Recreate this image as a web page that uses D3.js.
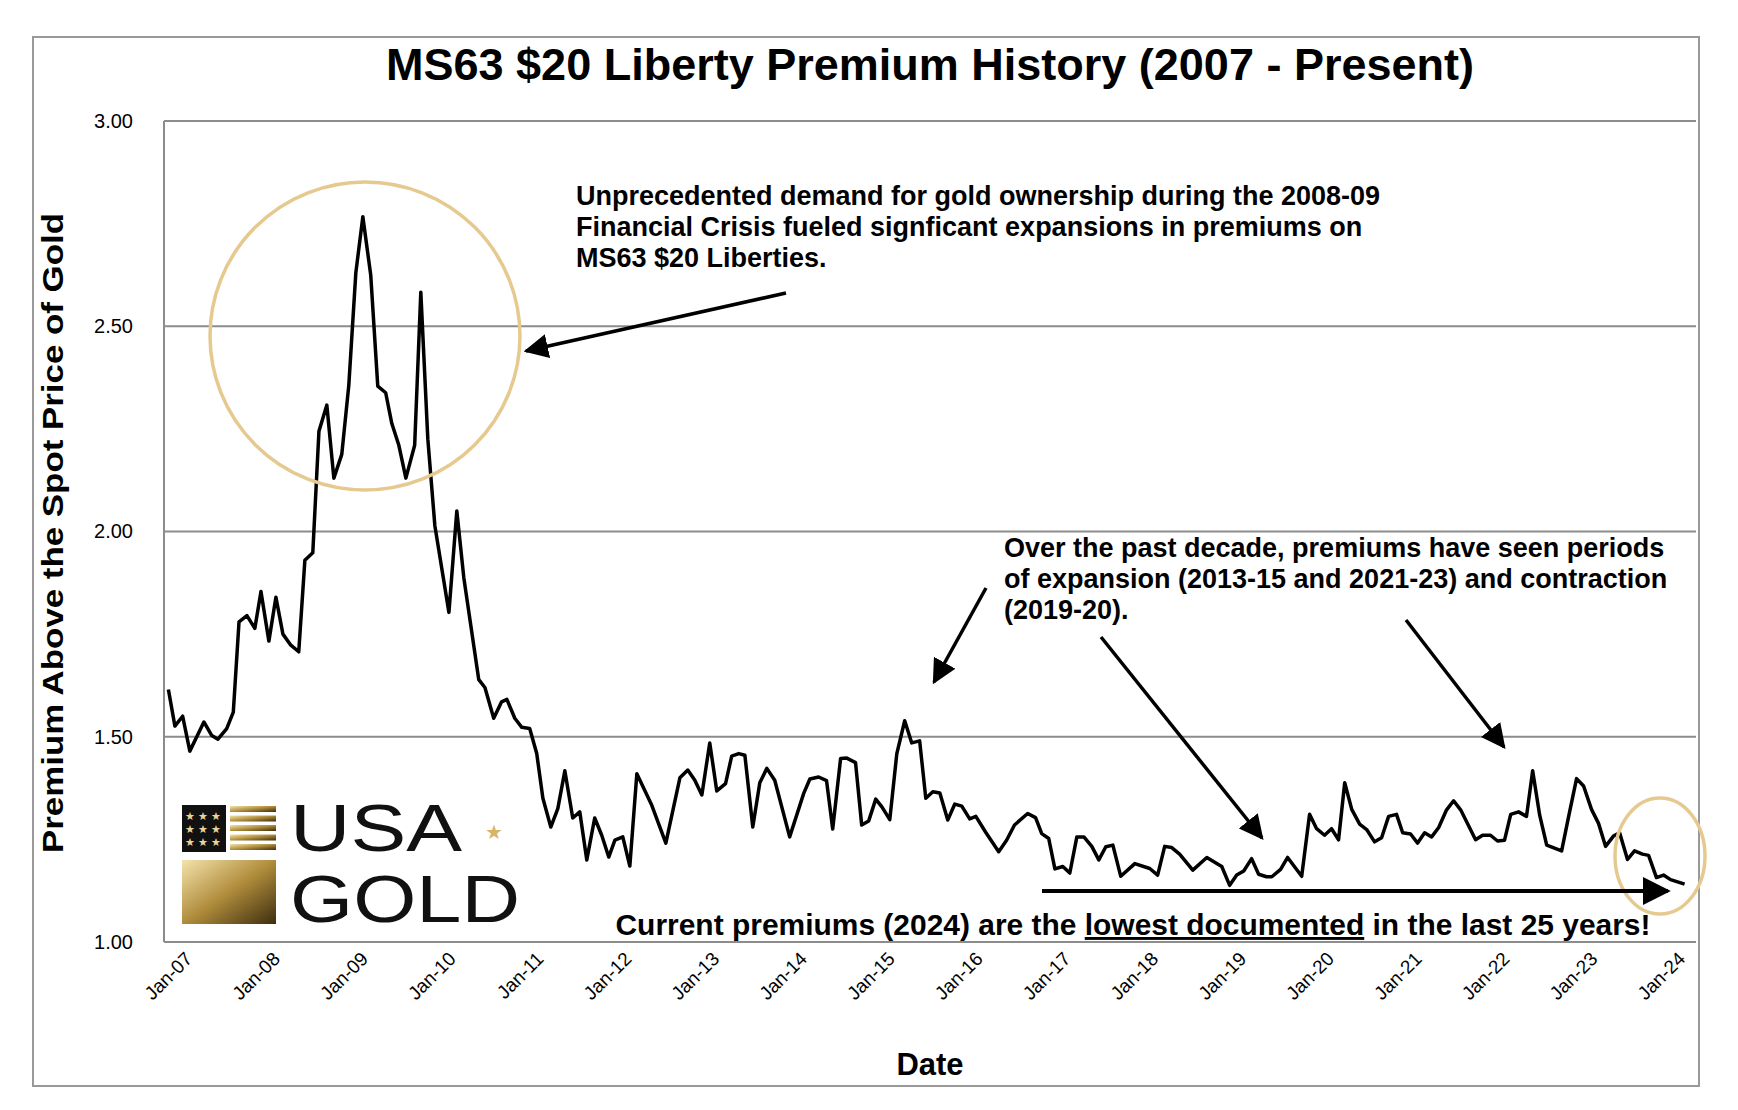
<!DOCTYPE html>
<html>
<head>
<meta charset="utf-8">
<script src="https://cdn.jsdelivr.net/npm/d3@7"></script>
<style>
  body { margin: 0; background: #fff; }
  text { font-family: "Liberation Sans", Arial, sans-serif; }
</style>
</head>
<body>
<div id="chart"></div>
<script>
// years elapsed since Jan-07
var yearsSince2007 = [0.016,0.09,0.178,0.26,0.42,0.51,0.58,0.68,0.755,0.82,0.91,1.0,1.07,1.16,1.24,1.32,1.41,1.5,1.57,1.66,1.73,1.82,1.9,1.99,2.07,2.15,2.23,2.32,2.4,2.49,2.56,2.64,2.72,2.82,2.89,2.97,3.05,3.21,3.3,3.38,3.55,3.62,3.72,3.81,3.87,3.96,4.04,4.13,4.21,4.28,4.37,4.45,4.53,4.62,4.7,4.78,4.87,4.95,5.03,5.1,5.19,5.27,5.35,5.52,5.68,5.84,5.93,6.01,6.09,6.18,6.26,6.36,6.43,6.51,6.58,6.67,6.75,6.83,6.92,7.09,7.25,7.32,7.42,7.51,7.58,7.67,7.74,7.84,7.91,7.99,8.07,8.14,8.23,8.31,8.4,8.48,8.57,8.64,8.72,8.8,8.89,8.97,9.05,9.14,9.21,9.32,9.47,9.56,9.65,9.8,9.89,9.96,10.04,10.11,10.2,10.28,10.36,10.44,10.53,10.61,10.69,10.77,10.86,11.02,11.19,11.28,11.36,11.44,11.53,11.68,11.84,12.01,12.1,12.18,12.26,12.35,12.43,12.52,12.58,12.68,12.76,12.92,13.01,13.09,13.18,13.26,13.34,13.41,13.49,13.58,13.66,13.75,13.83,13.91,14.0,14.07,14.16,14.24,14.32,14.4,14.48,14.57,14.65,14.73,14.9,14.98,15.07,15.15,15.23,15.3,15.39,15.48,15.55,15.63,15.71,15.88,15.96,16.05,16.13,16.22,16.3,16.38,16.47,16.54,16.63,16.71,16.8,16.87,16.96,17.04,17.12,17.28];
var premium = [1.615,1.526,1.55,1.465,1.536,1.503,1.494,1.52,1.56,1.78,1.795,1.764,1.854,1.733,1.84,1.75,1.723,1.707,1.93,1.948,2.244,2.308,2.13,2.188,2.356,2.63,2.767,2.624,2.354,2.338,2.263,2.21,2.13,2.21,2.583,2.225,2.014,1.803,2.05,1.887,1.639,1.62,1.545,1.585,1.591,1.545,1.523,1.52,1.459,1.35,1.28,1.325,1.417,1.302,1.317,1.2,1.302,1.26,1.207,1.248,1.256,1.185,1.41,1.333,1.241,1.4,1.419,1.394,1.358,1.485,1.368,1.386,1.453,1.459,1.455,1.28,1.388,1.423,1.394,1.256,1.362,1.397,1.402,1.393,1.275,1.447,1.448,1.437,1.285,1.295,1.348,1.329,1.298,1.459,1.539,1.485,1.49,1.35,1.366,1.363,1.297,1.336,1.331,1.3,1.306,1.268,1.22,1.248,1.285,1.313,1.303,1.264,1.252,1.178,1.184,1.168,1.256,1.256,1.233,1.2,1.232,1.236,1.16,1.191,1.179,1.163,1.233,1.23,1.214,1.175,1.206,1.184,1.138,1.163,1.173,1.203,1.165,1.159,1.159,1.177,1.206,1.16,1.311,1.276,1.26,1.276,1.249,1.388,1.323,1.287,1.274,1.244,1.254,1.306,1.311,1.266,1.263,1.241,1.266,1.256,1.279,1.322,1.344,1.322,1.249,1.26,1.26,1.246,1.248,1.311,1.317,1.306,1.417,1.309,1.236,1.222,1.306,1.398,1.38,1.323,1.289,1.233,1.258,1.266,1.201,1.222,1.214,1.211,1.157,1.163,1.152,1.141];
var tickYears = d3.range(2007, 2025);
var yTicks = [1.0, 1.5, 2.0, 2.5, 3.0];

var svgWidth = 1738, svgHeight = 1110;
var plot = { left: 164, top: 121, right: 1696, bottom: 942 };

var svg = d3.select("#chart").append("svg")
  .attr("width", svgWidth).attr("height", svgHeight);
var defs = svg.append("defs");

svg.append("rect")
  .attr("x", 33).attr("y", 37).attr("width", 1666).attr("height", 1049)
  .attr("fill", "none").attr("stroke", "#999").attr("stroke-width", 2);

var x = d3.scaleLinear().domain([2007, 2024]).range([167, 1660]);
var y = d3.scaleLinear().domain([1, 3]).range([plot.bottom, plot.top]);

// gridlines
svg.append("g").selectAll("line").data(yTicks).enter().append("line")
  .attr("x1", plot.left).attr("x2", plot.right)
  .attr("y1", d => y(d)).attr("y2", d => y(d))
  .attr("stroke", "#8c8c8c").attr("stroke-width", 2);

svg.append("line")
  .attr("x1", plot.left).attr("x2", plot.left)
  .attr("y1", plot.top).attr("y2", plot.bottom)
  .attr("stroke", "#8c8c8c").attr("stroke-width", 2);

var leftAxis = d3.axisLeft(y).tickValues(yTicks).tickFormat(d3.format(".2f")).tickSize(0).tickPadding(0);
var gy = svg.append("g").attr("transform", "translate(133,0)").call(leftAxis);
gy.select(".domain").remove();
gy.selectAll("text").attr("font-size", 20).attr("font-family", "Liberation Sans").attr("fill", "#000");

var bottomAxis = d3.axisBottom(x).tickValues(tickYears)
  .tickFormat(d => "Jan-" + String(d).slice(2)).tickSize(0);
var gx = svg.append("g").attr("transform", "translate(0," + plot.bottom + ")").call(bottomAxis);
gx.select(".domain").remove();
gx.selectAll("text")
  .attr("font-size", 19).attr("fill", "#000")
  .attr("text-anchor", "end")
  .attr("dy", 0).attr("y", 0)
  .attr("transform", "translate(26,18) rotate(-45)");

// logo
var logo = svg.append("g");
var gold = defs.append("linearGradient").attr("id", "gold")
  .attr("x1", 0).attr("y1", 0).attr("x2", 1).attr("y2", 1);
gold.append("stop").attr("offset", 0).attr("stop-color", "#f4e3ac");
gold.append("stop").attr("offset", 0.5).attr("stop-color", "#b08d3c");
gold.append("stop").attr("offset", 1).attr("stop-color", "#3d2d10");
logo.append("rect").attr("x", 182).attr("y", 805).attr("width", 44).attr("height", 47).attr("fill", "#111");
for (var i = 0; i < 5; i++) {
  logo.append("rect").attr("x", 230).attr("y", 806 + i * 9.5).attr("width", 46).attr("height", 6).attr("fill", "url(#gold)");
}
for (var r = 0; r < 3; r++) for (var c = 0; c < 3; c++) {
  logo.append("text").attr("x", 190 + c * 13).attr("y", 820 + r * 13).attr("font-size", 11)
    .attr("fill", "#e8d49a").attr("text-anchor", "middle").text("★");
}
logo.append("rect").attr("x", 182).attr("y", 860).attr("width", 94).attr("height", 64)
  .attr("fill", "url(#gold)");
logo.append("text").attr("x", 290).attr("y", 851).attr("font-size", 66).attr("fill", "#111")
  .attr("textLength", 172).attr("lengthAdjust", "spacingAndGlyphs").text("USA");
logo.append("text").attr("x", 290).attr("y", 922).attr("font-size", 66).attr("fill", "#111")
  .attr("textLength", 230).attr("lengthAdjust", "spacingAndGlyphs").text("GOLD");
logo.append("text").attr("x", 494).attr("y", 839).attr("font-size", 20).attr("fill", "#d6b56a").attr("text-anchor", "middle").text("★");

// line
var line = d3.line().x((d, i) => x(2007 + yearsSince2007[i])).y(d => y(d));
svg.append("path").datum(premium)
  .attr("d", line).attr("fill", "none").attr("stroke", "#000")
  .attr("stroke-width", 3.5).attr("stroke-linejoin", "round");

// circles
svg.append("ellipse").attr("cx", 365).attr("cy", 336).attr("rx", 155).attr("ry", 154)
  .attr("fill", "none").attr("stroke", "#e6c98f").attr("stroke-width", 3.5);
svg.append("ellipse").attr("cx", 1660).attr("cy", 856).attr("rx", 45).attr("ry", 58)
  .attr("fill", "none").attr("stroke", "#e6c98f").attr("stroke-width", 3.5);

// arrows
defs.append("marker").attr("id", "arrow").attr("viewBox", "0 0 10 10")
  .attr("refX", 9).attr("refY", 5).attr("markerWidth", 7).attr("markerHeight", 7)
  .attr("markerUnits", "strokeWidth").attr("orient", "auto")
  .append("path").attr("d", "M0,0L10,5L0,10z").attr("fill", "#000");
var arrows = [
  [786, 293, 526, 351],
  [986, 588, 934, 682],
  [1101, 637, 1262, 838],
  [1406, 620, 1504, 747],
  [1042, 891, 1668, 891]
];
svg.append("g").selectAll("line").data(arrows).enter().append("line")
  .attr("x1", d => d[0]).attr("y1", d => d[1]).attr("x2", d => d[2]).attr("y2", d => d[3])
  .attr("stroke", "#000").attr("stroke-width", (d, i) => i === 4 ? 4 : 3.5)
  .attr("marker-end", "url(#arrow)");

// texts
svg.append("text").attr("x", 930).attr("y", 80).attr("text-anchor", "middle")
  .attr("font-size", 45).attr("font-weight", "bold")
  .text("MS63 $20 Liberty Premium History (2007 - Present)");

svg.append("text").attr("transform", "translate(63,533) rotate(-90)")
  .attr("text-anchor", "middle").attr("font-size", 29).attr("font-weight", "bold")
  .attr("font-family", "DejaVu Sans").attr("textLength", 640).attr("lengthAdjust", "spacingAndGlyphs")
  .text("Premium Above the Spot Price of Gold");

svg.append("text").attr("x", 930).attr("y", 1075).attr("text-anchor", "middle")
  .attr("font-size", 31).attr("font-weight", "bold").text("Date");

var note1 = ["Unprecedented demand for gold ownership during the 2008-09",
  "Financial Crisis fueled signficant expansions in premiums on",
  "MS63 $20 Liberties."];
svg.append("g").selectAll("text").data(note1).enter().append("text")
  .attr("x", 576).attr("y", (d, i) => 205 + i * 31)
  .attr("font-size", 27).attr("font-weight", "bold").text(d => d);

var note2 = ["Over the past decade, premiums have seen periods",
  "of expansion (2013-15 and 2021-23) and contraction",
  "(2019-20)."];
svg.append("g").selectAll("text").data(note2).enter().append("text")
  .attr("x", 1004).attr("y", (d, i) => 557 + i * 31)
  .attr("font-size", 27).attr("font-weight", "bold").text(d => d);

var bottom = svg.append("text").attr("x", 1133).attr("y", 935).attr("text-anchor", "middle")
  .attr("font-size", 29).attr("font-weight", "bold")
  .attr("textLength", 1035).attr("lengthAdjust", "spacingAndGlyphs");
bottom.append("tspan").text("Current premiums (2024) are the ");
bottom.append("tspan").attr("text-decoration", "underline").text("lowest documented");
bottom.append("tspan").text(" in the last 25 years!");
</script>
</body>
</html>
